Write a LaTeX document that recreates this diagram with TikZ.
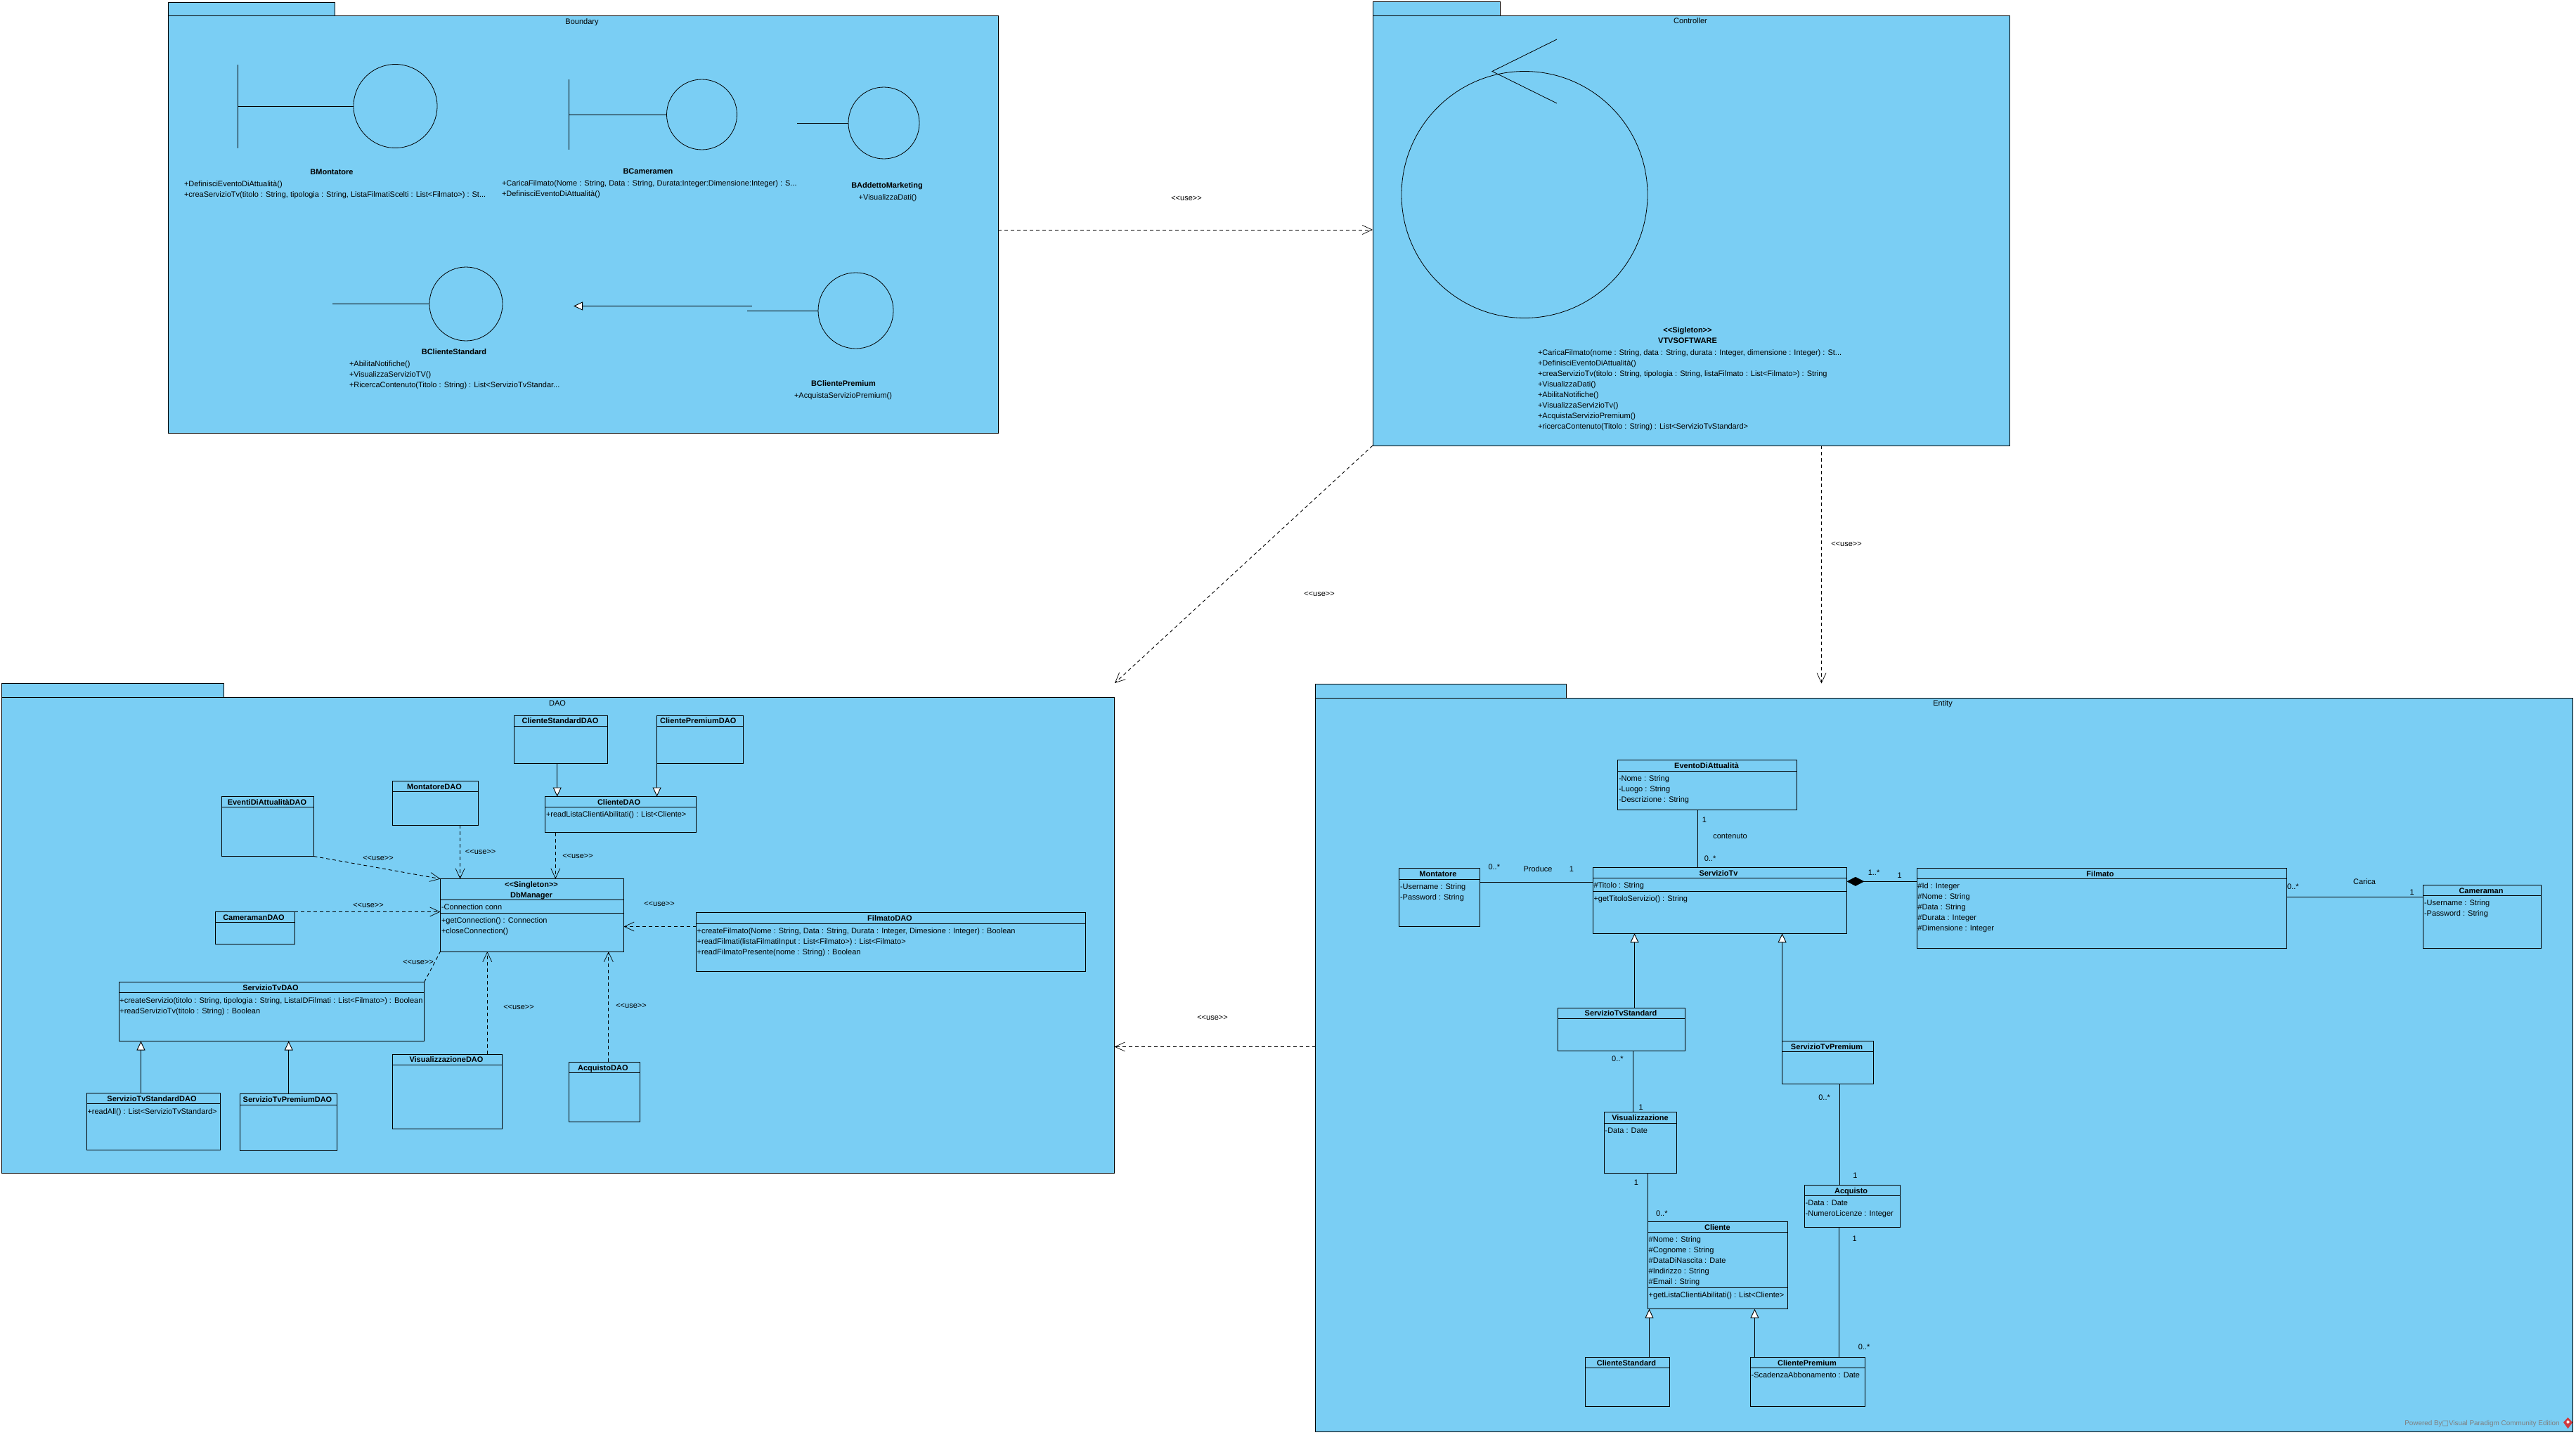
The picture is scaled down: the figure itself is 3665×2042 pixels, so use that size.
\documentclass[tikz,border=0pt]{standalone}
\usepackage{fontspec}
\setmainfont{Liberation Sans}
\newfontfamily\symfont{DejaVu Sans}
\usetikzlibrary{arrows.meta}
\definecolor{pkgblue}{HTML}{7ACEF4}
\definecolor{wmgrey}{HTML}{7F7F7F}
\definecolor{wmred}{HTML}{D0393E}
\newcommand{\rectn}[6]{% style name x1 y1 x2 y2
  \pgfmathsetmacro\rw{#5-#3}\pgfmathsetmacro\rh{#6-#4}%
  \node[#1,minimum width=\rw pt,minimum height=\rh pt] (#2) at ({(#3+#5)/2},{(#4+#6)/2}) {};}
\newcommand{\umlbox}[6]{% name x1 y1 x2 y2 headerY
  \rectn{boxstyle}{#1}{#2}{#3}{#4}{#5}%
  \coordinate (#1-h) at (#2,#6);
  \draw[line width=1pt] (#1.west |- #1-h) -- (#1.east |- #1-h);}
\newcommand{\lines}[4]{% name x firstY text
  \node[txt,anchor=north west,align=left] (#1) at (#2,{#3-7.5}) {\rule{0pt}{11.5pt}#4};}
\newcommand{\usetxt}{<{}<use>{}>}
\tikzset{
  txt/.style={font=\fontsize{11}{15}\selectfont,inner sep=0pt,outer sep=0pt,text=black},
  tl/.style={txt,text height=8pt,text depth=0pt},
  bd/.style={tl,font=\fontsize{11}{15}\selectfont\bfseries},
  pkgstyle/.style={draw=black,fill=pkgblue,line width=1pt,inner sep=0pt,outer sep=0pt},
  boxstyle/.style={draw=black,line width=1pt,inner sep=0pt,outer sep=0pt},
  ln/.style={draw=black,line width=1pt},
  use/.style={draw=black,line width=0.9pt,dash pattern=on 5pt off 4pt,-{Straight Barb[length=14pt,width=13pt,line width=0.7pt]}},
  gen/.style={draw=black,line width=1pt,-{Triangle[open,length=13pt,width=12pt,fill=white,line width=0.9pt]}},
  comp/.style={draw=black,line width=1pt,{Diamond[length=25pt,width=13pt,fill=black]}-}
}
\newcommand{\ringn}[5]{% name cx cy rx ry
  \draw[black,line width=0.8pt] (#2,#3) ellipse ({#4pt} and {#5pt});
  \node[inner sep=0pt,outer sep=0pt,minimum width=#4 pt*2,minimum height=#5 pt*2] (#1) at (#2,#3) {};}
\begin{document}
\begin{tikzpicture}[x=1pt,y=-1pt]
\useasboundingbox (0,0) rectangle (3665,2042);
\fill[white] (0,0) rectangle (3665,2042);
% ---------- packages
\rectn{pkgstyle}{tabB}{239}{3.3}{476}{23}
\rectn{pkgstyle}{pkgB}{239}{23}{1420}{616}
\node[tl] (ttlB) at (828,31) {Boundary};
\rectn{pkgstyle}{tabC}{1953}{2.5}{2134}{22.4}
\rectn{pkgstyle}{pkgC}{1953}{22.4}{2859}{634}
\node[tl] (ttlC) at (2405,30) {Controller};
\rectn{pkgstyle}{tabD}{2.5}{972.3}{318.3}{992.3}
\rectn{pkgstyle}{pkgD}{2.5}{992.3}{1585.6}{1669}
\node[tl] (ttlD) at (793,1000) {DAO};
\rectn{pkgstyle}{tabE}{1871.5}{973}{2228.5}{993}
\rectn{pkgstyle}{pkgE}{1871.5}{993}{3660}{2037.5}
\node[tl] (ttlE) at (2764,1000) {Entity};
% ---------- Boundary
\ringn{rMon}{562.5}{151}{59.5}{59.5}
\coordinate (bMon1) at (338,92); \coordinate (bMon2) at (338,211);
\draw[ln] (bMon1) -- (bMon2); \draw[ln] (bMon1 |- rMon.west) -- (rMon.west);
\node[bd] (nMon) at (472,244) {BMontatore};
\lines{oMon}{262}{261}{+DefinisciEventoDiAttualità()\\+creaServizioTv(titolo : String, tipologia : String, ListaFilmatiScelti : List<Filmato>) : St...}
\ringn{rCam}{998.5}{163}{50}{50}
\coordinate (bCam1) at (809,113); \coordinate (bCam2) at (809,213);
\draw[ln] (bCam1) -- (bCam2); \draw[ln] (bCam1 |- rCam.west) -- (rCam.west);
\node[bd] (nCam) at (922,243) {BCameramen};
\lines{oCam}{714}{260}{+CaricaFilmato(Nome : String, Data : String, Durata:Integer:Dimensione:Integer) : S...\\+DefinisciEventoDiAttualità()}
\ringn{rAdd}{1257.5}{175}{50.5}{51}
\coordinate (bAdd) at (1134,175);
\draw[ln] (bAdd) -- (rAdd.west);
\node[bd] (nAdd) at (1262,263) {BAddettoMarketing};
\node[tl] (oAdd) at (1263,280) {+VisualizzaDati()};
\ringn{rStd}{663}{432.5}{52}{52.5}
\coordinate (bStd) at (473,432.5);
\draw[ln] (bStd) -- (rStd.west);
\node[bd] (nStd) at (646,500) {BClienteStandard};
\lines{oStd}{497}{517}{+AbilitaNotifiche()\\+VisualizzaServizioTV()\\+RicercaContenuto(Titolo : String) : List<ServizioTvStandar...}
\ringn{rPre}{1217.5}{442}{53.5}{54}
\coordinate (bPre) at (1063,442);
\draw[ln] (bPre) -- (rPre.west);
\node[bd] (nPre) at (1200,545) {BClientePremium};
\node[tl,anchor=west] (oPre) at (1130,562) {+AcquistaServizioPremium()};
\coordinate (gB1) at (1070,435.5); \coordinate (gB2) at (816,435.5);
\draw[gen] (gB1) -- (gB2);
% ---------- Controller
\ringn{rVT}{2169}{277}{175}{175.5}
\coordinate (vt1) at (2215,56); \coordinate (vt2) at (2123,101.5); \coordinate (vt3) at (2215,147);
\draw[black,line width=0.8pt] (vt1) -- (vt2) -- (vt3);
\node[bd] (sVT) at (2401,469) {<{}<Sigleton>{}>};
\node[bd] (nVT) at (2401,484) {VTVSOFTWARE};
\lines{oVT}{2188}{501}{+CaricaFilmato(nome : String, data : String, durata : Integer, dimensione : Integer) : St...\\+DefinisciEventoDiAttualità()\\+creaServizioTv(titolo : String, tipologia : String, listaFilmato : List<Filmato>) : String\\+VisualizzaDati()\\+AbilitaNotifiche()\\+VisualizzaServizioTv()\\+AcquistaServizioPremium()\\+ricercaContenuto(Titolo : String) : List<ServizioTvStandard>}
% ---------- DAO boxes
\umlbox{dEv}{315}{1133.5}{446.4}{1218.5}{1148.6}
\node[bd] (tdEv) at (380,1141) {EventiDiAttualitàDAO};
\umlbox{dMon}{558.7}{1111.5}{680.6}{1174.4}{1126.6}
\node[bd] (tdMon) at (618,1119) {MontatoreDAO};
\umlbox{dCam}{306.6}{1297.5}{419.4}{1343}{1312.6}
\node[bd] (tdCam) at (361,1305) {CameramanDAO};
\umlbox{dDb}{626.5}{1250.6}{887.4}{1354}{1280.4}
\coordinate (dDb-s) at (626.5,1299.2);
\draw[line width=1pt] (dDb.west |- dDb-s) -- (dDb.east |- dDb-s);
\node[bd] (sdDb) at (756,1258) {<{}<Singleton>{}>};
\node[bd] (tdDb) at (756,1273) {DbManager};
\node[tl,anchor=west] (adDb) at (628,1290) {-Connection conn};
\lines{odDb}{628}{1309}{+getConnection() : Connection\\+closeConnection()}
\umlbox{dSt}{169.4}{1397.5}{603.6}{1481.5}{1412.6}
\node[bd] (tdSt) at (385,1405) {ServizioTvDAO};
\lines{odSt}{170.4}{1423}{+createServizio(titolo : String, tipologia : String, ListaIDFilmati : List<Filmato>) : Boolean\\+readServizioTv(titolo : String) : Boolean}
\umlbox{dSs}{123.5}{1555.5}{313.3}{1636}{1570.6}
\node[bd] (tdSs) at (216,1563) {ServizioTvStandardDAO};
\node[tl,anchor=west] (odSs) at (124.5,1581) {+readAll() : List<ServizioTvStandard>};
\umlbox{dSp}{341.3}{1556.4}{479.6}{1637}{1572.5}
\node[bd] (tdSp) at (409,1564) {ServizioTvPremiumDAO};
\umlbox{dVis}{558.7}{1500}{714.3}{1606}{1515.6}
\node[bd] (tdVis) at (635,1507.6) {VisualizzazioneDAO};
\umlbox{dAcq}{809.6}{1511.4}{910.2}{1596}{1526.6}
\node[bd] (tdAcq) at (857.8,1519) {AcquistoDAO};
\umlbox{dCs}{731.6}{1018.3}{864.7}{1086.2}{1033.5}
\node[bd] (tdCs) at (797,1025.6) {ClienteStandardDAO};
\umlbox{dCp}{934.6}{1018.3}{1057.4}{1086.2}{1033.5}
\node[bd] (tdCp) at (993.3,1025.6) {ClientePremiumDAO};
\umlbox{dCl}{775.5}{1133.5}{990.7}{1184.5}{1148.3}
\node[bd] (tdCl) at (880.6,1141) {ClienteDAO};
\node[tl,anchor=west] (odCl) at (777,1158) {+readListaClientiAbilitati() : List<Cliente>};
\umlbox{dFi}{990.7}{1298.3}{1544.3}{1382.3}{1314}
\node[bd] (tdFi) at (1266,1306) {FilmatoDAO};
\lines{odFi}{991.7}{1324}{+createFilmato(Nome : String, Data : String, Durata : Integer, Dimesione : Integer) : Boolean\\+readFilmati(listaFilmatiInput : List<Filmato>) : List<Filmato>\\+readFilmatoPresente(nome : String) : Boolean}
% DAO connectors
\draw[use] (dEv.south east) -- (dDb.north west);
\node[tl] (l1) at (538,1220) {\usetxt};
\coordinate (x1) at (654.6,1200);
\draw[use] (dMon.south -| x1) -- (dDb.north -| x1);
\node[tl] (l2) at (683.7,1211) {\usetxt};
\coordinate (x2) at (790.3,1200);
\draw[use] (dCl.south -| x2) -- (dDb.north -| x2);
\node[tl] (l3) at (822,1217) {\usetxt};
\coordinate (x3) at (500,1297.5);
\draw[use] (dCam.east |- x3) -- (dDb.west |- x3);
\node[tl] (l4) at (524,1287) {\usetxt};
\draw[draw=black,line width=0.9pt,dash pattern=on 5pt off 4pt] (dSt.north east) -- (dDb.south west);
\node[tl] (l5) at (595,1368) {\usetxt};
\coordinate (x6) at (693.3,1400);
\draw[use] (dVis.north -| x6) -- (dDb.south -| x6);
\node[tl] (l6) at (738,1432) {\usetxt};
\coordinate (x7) at (865.8,1400);
\draw[use] (dAcq.north -| x7) -- (dDb.south -| x7);
\node[tl] (l7) at (898,1430) {\usetxt};
\coordinate (x8) at (900,1318.5);
\draw[use] (dFi.west |- x8) -- (dDb.east |- x8);
\node[tl] (l8) at (938,1285) {\usetxt};
\coordinate (g1) at (200.5,1500); \draw[gen] (dSs.north -| g1) -- (dSt.south -| g1);
\coordinate (g2) at (410.7,1500); \draw[gen] (dSp.north -| g2) -- (dSt.south -| g2);
\coordinate (g3) at (792.7,1100); \draw[gen] (dCs.south -| g3) -- (dCl.north -| g3);
\coordinate (g4) at (934.6,1100); \draw[gen] (dCp.south -| g4) -- (dCl.north -| g4);
% ---------- Package connectors
\coordinate (cBC) at (1700,327);
\draw[use] (pkgB.east |- cBC) -- (pkgC.west |- cBC);
\node[tl] (lBC) at (1688,281) {\usetxt};
\coordinate (cDT) at (1586,972);
\draw[use] (pkgC.south west) -- (cDT);
\node[tl] (lCD) at (1877,844) {\usetxt};
\coordinate (cET) at (2591.5,972.5);
\draw[use] (pkgC.south -| cET) -- (cET);
\node[tl] (lCE) at (2627,773.5) {\usetxt};
\coordinate (cED) at (1700,1489.5);
\draw[use] (pkgE.west |- cED) -- (pkgD.east |- cED);
\node[tl] (lED) at (1725,1447) {\usetxt};
% ---------- Entity boxes
\umlbox{eEv}{2301.4}{1081.4}{2556.3}{1152.5}{1097.5}
\node[bd] (teEv) at (2428,1089) {EventoDiAttualità};
\lines{aeEv}{2303}{1107}{-Nome : String\\-Luogo : String\\-Descrizione : String}
\umlbox{eSv}{2266.7}{1234.3}{2627.4}{1328.3}{1249.3}
\coordinate (eSv-s) at (2266.7,1268.3);
\draw[line width=1pt] (eSv.west |- eSv-s) -- (eSv.east |- eSv-s);
\node[bd] (teSv) at (2445,1242) {ServizioTv};
\node[tl,anchor=west] (aeSv) at (2267.5,1259.3) {\#Titolo : String};
\node[tl,anchor=west] (oeSv) at (2267.5,1278.3) {+getTitoloServizio() : String};
\umlbox{eMo}{1990.3}{1235.4}{2105.7}{1318}{1251.4}
\node[bd] (teMo) at (2046,1243) {Montatore};
\lines{aeMo}{1992}{1261.4}{-Username : String\\-Password : String}
\umlbox{eFi}{2727.3}{1235.3}{3253.6}{1349.3}{1250.3}
\node[bd] (teFi) at (2988,1243.3) {Filmato};
\lines{aeFi}{2728.4}{1260.3}{\#Id : Integer\\\#Nome : String\\\#Data : String\\\#Durata : Integer\\\#Dimensione : Integer}
\umlbox{eCa}{3447.8}{1259.3}{3615}{1349.3}{1274.3}
\node[bd] (teCa) at (3530,1267.3) {Cameraman};
\lines{aeCa}{3449}{1284.3}{-Username : String\\-Password : String}
\umlbox{eSs}{2216.4}{1434.4}{2397.5}{1495.4}{1449.5}
\node[bd] (teSs) at (2306,1441.8) {ServizioTvStandard};
\umlbox{eSp}{2535.5}{1481.5}{2665.6}{1542.5}{1496.6}
\node[bd] (teSp) at (2599,1489) {ServizioTvPremium};
\umlbox{eVi}{2282.5}{1582.6}{2385.7}{1669.4}{1598.6}
\node[bd] (teVi) at (2333.5,1590) {Visualizzazione};
\node[tl,anchor=west] (aeVi) at (2283.6,1608) {-Data : Date};
\umlbox{eAc}{2567.5}{1686.6}{2703.6}{1746.8}{1701.7}
\node[bd] (teAc) at (2633.6,1694) {Acquisto};
\lines{aeAc}{2568.7}{1711}{-Data : Date\\-NumeroLicenze : Integer}
\umlbox{eCl}{2344.5}{1738.6}{2543.4}{1862.6}{1753.7}
\coordinate (eCl-s) at (2344.5,1832.3);
\draw[line width=1pt] (eCl.west |- eCl-s) -- (eCl.east |- eCl-s);
\node[bd] (teCl) at (2443.4,1746) {Cliente};
\lines{aeCl}{2345.7}{1763}{\#Nome : String\\\#Cognome : String\\\#DataDiNascita : Date\\\#Indirizzo : String\\\#Email : String}
\node[tl,anchor=west] (oeCl) at (2345.7,1842) {+getListaClientiAbilitati() : List<Cliente>};
\umlbox{eCs}{2255.6}{1931.4}{2375.8}{2001.4}{1946.6}
\node[bd] (teCs) at (2314,1939) {ClienteStandard};
\umlbox{eCp}{2490.4}{1931.4}{2653.7}{2001.4}{1946.6}
\node[bd] (teCp) at (2571,1939) {ClientePremium};
\node[tl,anchor=west] (aeCp) at (2491.6,1956) {-ScadenzaAbbonamento : Date};
% Entity connectors
\coordinate (y1) at (2200,1255);
\draw[ln] (eMo.east |- y1) -- (eSv.west |- y1);
\node[tl] (m1) at (2125.8,1233) {0..*};
\node[tl] (m2) at (2188,1236) {Produce};
\node[tl] (m3) at (2236,1236) {1};
\coordinate (x9) at (2415.6,1200);
\draw[ln] (eEv.south -| x9) -- (eSv.north -| x9);
\node[tl] (m4) at (2425,1166) {1};
\node[tl] (m5) at (2461.5,1189) {contenuto};
\node[tl] (m6) at (2433,1221) {0..*};
\coordinate (y2) at (2680,1254.3);
\draw[comp] (eSv.east |- y2) -- (eFi.west |- y2);
\node[tl] (m7) at (2666,1241.4) {1..*};
\node[tl] (m8) at (2702.6,1245) {1};
\coordinate (y3) at (3300,1276.3);
\draw[ln] (eFi.east |- y3) -- (eCa.west |- y3);
\node[tl] (m9) at (3262.4,1261.3) {0..*};
\node[tl] (m10) at (3364,1254) {Carica};
\node[tl] (m11) at (3431.7,1269) {1};
\coordinate (x10) at (2325.5,1400);
\draw[gen] (eSs.north -| x10) -- (eSv.south -| x10);
\coordinate (x11) at (2535.6,1400);
\draw[gen] (eSp.north -| x11) -- (eSv.south -| x11);
\coordinate (x12) at (2323.6,1540);
\draw[ln] (eSs.south -| x12) -- (eVi.north -| x12);
\node[tl] (m12) at (2301.4,1506) {0..*};
\node[tl] (m13) at (2334.6,1575) {1};
\coordinate (x13) at (2617.4,1600);
\draw[ln] (eSp.south -| x13) -- (eAc.north -| x13);
\node[tl] (m14) at (2595.6,1561) {0..*};
\node[tl] (m15) at (2639.5,1672) {1};
\coordinate (x14) at (2344.5,1700);
\draw[ln] (eVi.south -| x14) -- (eCl.north -| x14);
\node[tl] (m16) at (2328,1682) {1};
\node[tl] (m17) at (2364.3,1726.7) {0..*};
\coordinate (x15) at (2616.6,1800);
\draw[ln] (eAc.south -| x15) -- (eCp.north -| x15);
\node[tl] (m18) at (2638.7,1762) {1};
\node[tl] (m19) at (2652,1916) {0..*};
\coordinate (x16) at (2346.5,1900);
\draw[gen] (eCs.north -| x16) -- (eCl.south -| x16);
\coordinate (x17) at (2496.4,1900);
\draw[gen] (eCp.north -| x17) -- (eCl.south -| x17);
% ---------- Watermark
\node[txt,anchor=east,text=wmgrey,font=\fontsize{9.9}{11}\selectfont] (wm) at (3641.7,2025.7) {Powered By{\symfont□}Visual Paradigm Community Edition};
\fill[wmred] (3653.5,2017) -- (3660,2024) -- (3653.5,2033) -- (3647,2024) -- cycle;
\fill[white] (3653.5,2021) -- (3656,2023.5) -- (3653.5,2026) -- (3651,2023.5) -- cycle;
\end{tikzpicture}
\end{document}
